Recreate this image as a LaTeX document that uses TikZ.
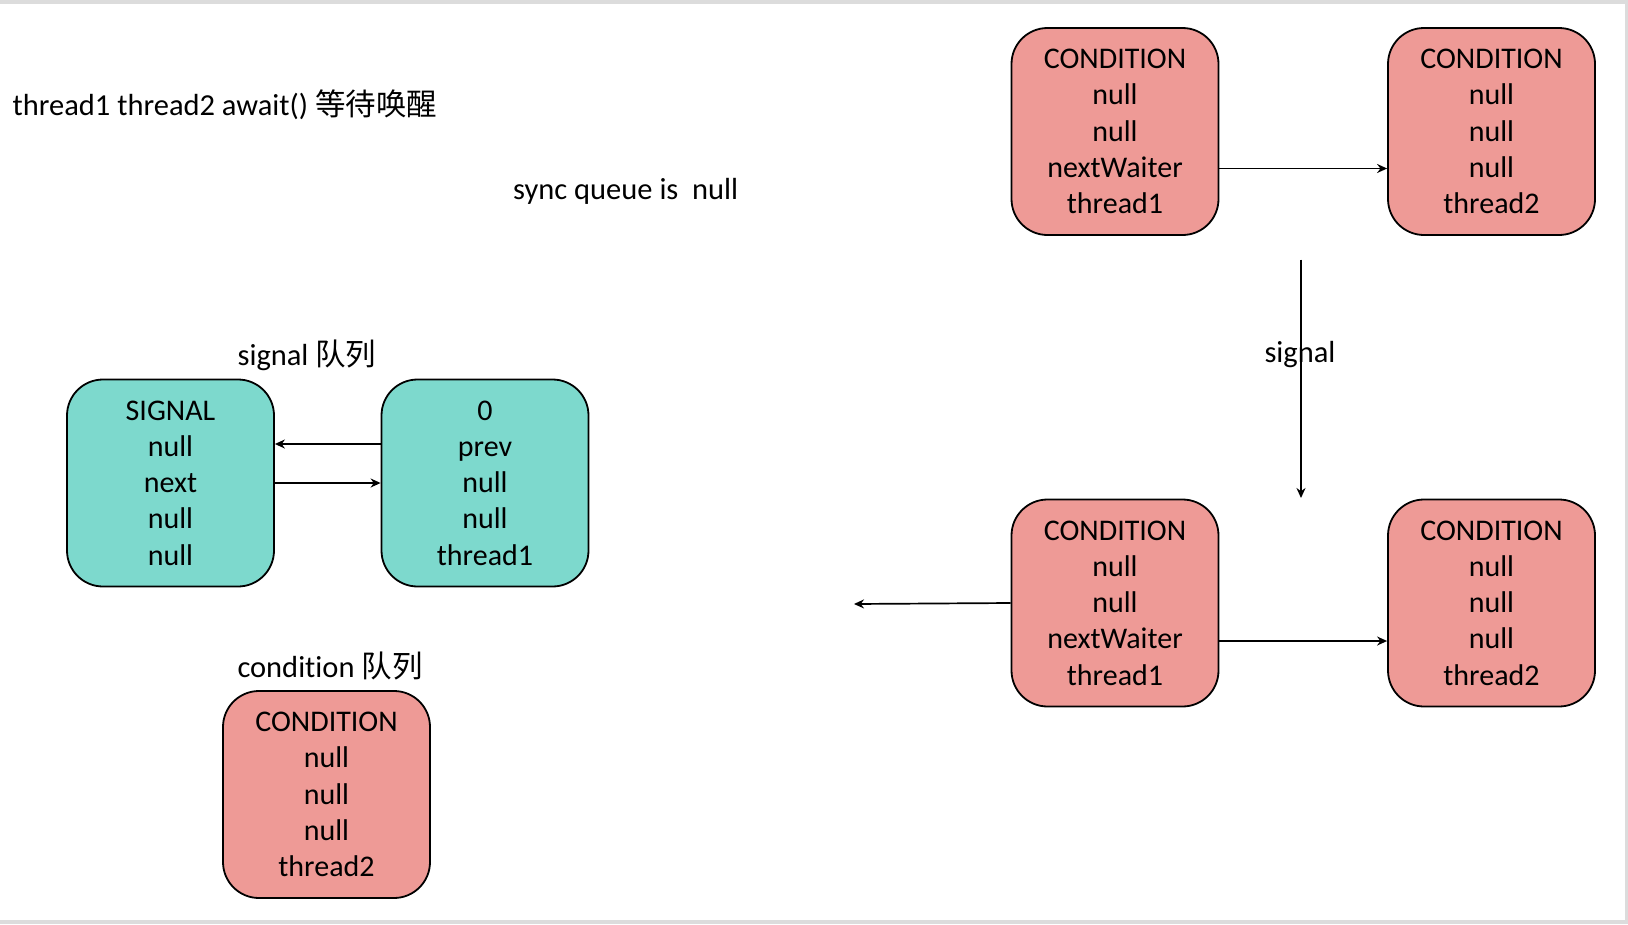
\documentclass[tikz,border=0pt]{standalone}
\usepackage{fontspec}
\setmainfont[RawFeature={-liga;-dlig}]{Carlito}
\newfontfamily\cjk{Noto Sans CJK SC}
\usetikzlibrary{arrows.meta}
\definecolor{condfill}{HTML}{EE9A96}
\definecolor{sigfill}{HTML}{7DD9CD}
\definecolor{framegray}{HTML}{DCDCDC}
\begin{document}
\begin{tikzpicture}[x=1pt,y=-1pt,
  nodebox/.style={draw=black, line width=1.8pt, rounded corners=36pt, minimum width=207pt, minimum height=207pt, align=center, inner sep=0pt, font=\fontsize{30}{36.3}\selectfont},
  cond/.style={nodebox, fill=condfill},
  sig/.style={nodebox, fill=sigfill},
  lbl/.style={font=\fontsize{30.5}{36}\selectfont, inner sep=0pt},
  conn/.style={line width=1.7pt, -{Stealth[length=10pt,width=9pt]}}
]
\fill[framegray] (0,0) rectangle (1628,924);
\fill[white] (0,4) rectangle (1625,920);
\useasboundingbox (0,0) rectangle (1628,924);

\node[lbl, anchor=west] (title) at (12.5,105) {thread1 thread2 await() {\cjk 等待唤醒}};
\node[lbl, anchor=west] (sync) at (513,191) {sync queue is\ \ null};
\node[lbl] (siglbl) at (307,355) {signal {\cjk 队列}};
\node[lbl] (condlbl) at (330,666) {condition {\cjk 队列}};

\node[cond] (T1) at (1115,131.5) {CONDITION\\null\\null\\nextWaiter\\thread1};
\node[cond] (T2) at (1491.5,131.5) {CONDITION\\null\\null\\null\\thread2};
\node[cond] (B1) at (1115,603) {CONDITION\\null\\null\\nextWaiter\\thread1};
\node[cond] (B2) at (1491.5,603) {CONDITION\\null\\null\\null\\thread2};
\node[sig] (SIG) at (170.5,483) {SIGNAL\\null\\next\\null\\null};
\node[sig] (ZERO) at (485,483) {0\\prev\\null\\null\\thread1};
\node[cond] (C3) at (326.5,794.5) {CONDITION\\null\\null\\null\\thread2};

\coordinate (sigtop) at (1301,259.5);
\coordinate (sigbot) at (1301,498);
\coordinate (leftend) at (854,604);

\draw[conn] ([yshift=-37pt]T1.east) -- ([yshift=-37pt]T2.west);
\draw[conn] ([yshift=-38pt]B1.east) -- ([yshift=-38pt]B2.west);
\draw[conn] (B1.west) -- (leftend);
\draw[conn] (sigtop) -- (sigbot);
\node[lbl] (signal) at (1300,355) {signal};
\draw[conn] ([yshift=39pt]ZERO.west) -- ([yshift=39pt]SIG.east);
\draw[conn] (SIG.east) -- (ZERO.west);
\end{tikzpicture}
\end{document}
